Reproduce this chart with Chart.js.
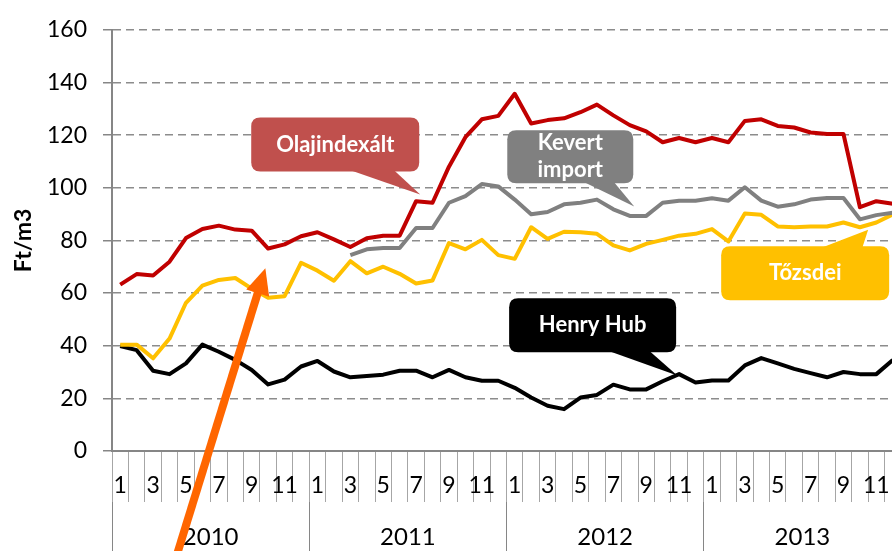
<!DOCTYPE html>
<html>
<head>
<meta charset="utf-8">
<script src="https://cdn.jsdelivr.net/npm/chart.js@4.4.0/dist/chart.umd.min.js"></script>
<style>
    html, body { margin: 0; padding: 0; overflow: hidden; background: #fff; }
    canvas { display: block; }
</style>
</head>
<body>
<canvas id="gasChart" width="901" height="551"></canvas>
<script>
const years = ['2010', '2011', '2012', '2013'];
const months = ['1', '2', '3', '4', '5', '6', '7', '8', '9', '10', '11', '12'];

const olajindexalt = [
    63.2, 67.2, 66.7, 71.9, 80.9, 84.3, 85.6, 84.1, 83.7, 76.9, 78.5, 81.6,
    83.1, 80.4, 77.5, 80.8, 81.8, 81.8, 94.9, 94.3, 108.0, 119.2, 126.0, 127.3,
    135.7, 124.4, 125.7, 126.4, 128.7, 131.6, 127.5, 123.8, 121.4, 117.3, 118.9, 117.3,
    118.9, 117.3, 125.4, 126.0, 123.5, 122.9, 121.0, 120.4, 120.4, 92.6, 94.9, 93.9
];
const kevertImport = [
    null, null, null, null, null, null, null, null, null, null, null, null,
    null, null, 74.4, 76.6, 77.1, 77.1, 84.7, 84.7, 94.3, 96.8, 101.4, 100.5,
    95.5, 89.9, 90.8, 93.7, 94.3, 95.5, 91.8, 89.3, 89.3, 94.3, 95.1, 95.1,
    96.0, 95.1, 100.2, 95.1, 92.8, 93.7, 95.5, 96.1, 96.1, 88.0, 89.6, 90.5
];
const tozsdei = [
    40.4, 40.4, 35.2, 42.7, 56.3, 62.8, 65.0, 65.7, 61.7, 58.2, 58.8, 71.5,
    68.5, 64.7, 72.1, 67.5, 70.0, 67.3, 63.6, 64.8, 79.0, 76.6, 80.2, 74.4,
    73.0, 85.0, 80.6, 83.3, 83.1, 82.5, 78.1, 76.2, 78.7, 80.2, 81.8, 82.5,
    84.3, 79.6, 90.2, 89.7, 85.3, 85.0, 85.3, 85.3, 86.8, 85.0, 86.8, 89.9
];
const henryHub = [
    39.9, 38.3, 30.5, 29.2, 33.3, 40.4, 37.7, 34.6, 30.8, 25.3, 27.1, 32.1,
    34.2, 30.2, 28.0, 28.5, 29.0, 30.5, 30.5, 28.0, 30.8, 28.0, 26.7, 26.7,
    24.0, 20.3, 17.2, 15.9, 20.3, 21.3, 25.2, 23.4, 23.4, 26.5, 29.2, 26.0,
    26.8, 26.8, 32.5, 35.3, 33.3, 31.2, 29.6, 28.0, 30.0, 29.2, 29.2, 34.6
];

// callouts: anchor and tip in data units (month index, Ft/m3)
const callouts = [
    { text: ['Olajindexált'], color: '#C0504D', at: [13.08, 116.4], tip: [18.25, 97.4], w: 168, h: 54, base: [13, 58] },
    { text: ['Kevert', 'import'], color: '#808080', at: [27.38, 111.8], tip: [31.27, 92.9], w: 126, h: 53, base: [12, 43] },
    { text: ['Henry Hub'], color: '#000000', at: [28.74, 47.8], tip: [33.89, 28.7], w: 167, h: 54, base: [14, 56] },
    { text: ['Tőzsdei'], color: '#FFC000', at: [41.67, 67.5], tip: [45.5, 84.0], w: 168, h: 54, base: [15, 57] }
];
const arrow = { from: [3.42, -40], to: [8.83, 69.4], color: '#FF6600' };

const monthLabels = years.flatMap(() => months);

function roundRect(ctx, x, y, w, h, r) {
    ctx.beginPath();
    ctx.moveTo(x + r, y);
    ctx.lineTo(x + w - r, y);
    ctx.quadraticCurveTo(x + w, y, x + w, y + r);
    ctx.lineTo(x + w, y + h - r);
    ctx.quadraticCurveTo(x + w, y + h, x + w - r, y + h);
    ctx.lineTo(x + r, y + h);
    ctx.quadraticCurveTo(x, y + h, x, y + h - r);
    ctx.lineTo(x, y + r);
    ctx.quadraticCurveTo(x, y, x + r, y);
    ctx.closePath();
}

const annotationPlugin = {
    id: 'annotations',
    afterDraw(chart) {
        const ctx = chart.ctx;
        const xs = chart.scales.x;
        const ys = chart.scales.y;

        callouts.forEach(c => {
            const cx = xs.getPixelForValue(c.at[0]);
            const cy = ys.getPixelForValue(c.at[1]);
            const tx = xs.getPixelForValue(c.tip[0]);
            const ty = ys.getPixelForValue(c.tip[1]);
            const left = cx - c.w / 2;
            const top = cy - c.h / 2;
            ctx.save();
            ctx.fillStyle = c.color;
            roundRect(ctx, left, top, c.w, c.h, 9);
            ctx.fill();
            const edge = ty > cy ? top + c.h - 2 : top + 2;
            ctx.beginPath();
            ctx.moveTo(cx + c.base[0], edge);
            ctx.lineTo(tx, ty);
            ctx.lineTo(cx + c.base[1], edge);
            ctx.closePath();
            ctx.fill();
            ctx.fillStyle = '#ffffff';
            ctx.font = 'bold 22px Lato';
            ctx.textAlign = 'center';
            ctx.textBaseline = 'middle';
            const lh = 27;
            c.text.forEach((t, i) => {
                ctx.fillText(t, cx, cy + (i - (c.text.length - 1) / 2) * lh);
            });
            ctx.restore();
        });

        const x1 = xs.getPixelForValue(arrow.from[0]);
        const y1 = ys.getPixelForValue(arrow.from[1]);
        const x2 = xs.getPixelForValue(arrow.to[0]);
        const y2 = ys.getPixelForValue(arrow.to[1]);
        const len = Math.hypot(x2 - x1, y2 - y1);
        const ux = (x2 - x1) / len;
        const uy = (y2 - y1) / len;
        const headLen = 26;
        const headHalf = 12;
        const bx = x2 - ux * headLen;
        const by = y2 - uy * headLen;
        ctx.save();
        ctx.strokeStyle = arrow.color;
        ctx.fillStyle = arrow.color;
        ctx.lineWidth = 8;
        ctx.beginPath();
        ctx.moveTo(x1, y1);
        ctx.lineTo(bx + ux * 2, by + uy * 2);
        ctx.stroke();
        ctx.beginPath();
        ctx.moveTo(x2, y2);
        ctx.lineTo(bx - uy * headHalf, by + ux * headHalf);
        ctx.lineTo(bx + uy * headHalf, by - ux * headHalf);
        ctx.closePath();
        ctx.fill();
        ctx.restore();
    }
};

const ctx = document.getElementById('gasChart').getContext('2d');
new Chart(ctx, {
    type: 'line',
    data: {
        labels: monthLabels,
        datasets: [
            { label: 'Olajindexált', data: olajindexalt, borderColor: '#C00000' },
            { label: 'Kevert import', data: kevertImport, borderColor: '#808080' },
            { label: 'Tőzsdei', data: tozsdei, borderColor: '#FFC000' },
            { label: 'Henry Hub', data: henryHub, borderColor: '#000000' }
        ]
    },
    options: {
        responsive: false,
        animation: false,
        layout: { padding: { top: 22, left: 0, right: 0, bottom: 0 } },
        elements: {
            point: { radius: 0 },
            line: { borderWidth: 4, tension: 0, borderJoinStyle: 'round', fill: false }
        },
        plugins: {
            legend: { display: false },
            tooltip: { enabled: false }
        },
        scales: {
            x: {
                offset: true,
                weight: 0,
                grid: { offset: true, drawOnChartArea: false, tickLength: 51, color: '#a6a6a6', lineWidth: 1 },
                border: { color: '#868686', width: 2 },
                ticks: {
                    autoSkip: false,
                    maxRotation: 0,
                    padding: -30,
                    color: '#000',
                    font: { family: 'Lato', size: 23 },
                    callback: (v, i) => (i % 2 === 0 ? months[i % 12] : '')
                },
                afterFit: s => { s.height = 51; }
            },
            x2: {
                type: 'category',
                labels: years,
                position: 'bottom',
                offset: true,
                weight: 1,
                grid: { offset: true, drawOnChartArea: false, tickLength: 49, color: '#868686', lineWidth: 1 },
                border: { display: false },
                ticks: {
                    autoSkip: false,
                    maxRotation: 0,
                    padding: -28,
                    color: '#000',
                    font: { family: 'Lato', size: 24 }
                },
                afterFit: s => { s.height = 49; }
            },
            y: {
                min: 0,
                max: 160,
                ticks: { stepSize: 20, padding: 16, color: '#000', font: { family: 'Lato', size: 23 } },
                grid: { color: '#8c8c8c', lineWidth: 1.5, tickLength: 9, tickColor: '#868686', tickWidth: 1.5 },
                border: { color: '#868686', width: 2, dash: [8, 5] },
                title: {
                    display: true,
                    text: 'Ft/m3',
                    color: '#000',
                    font: { family: 'Lato', size: 23, weight: 'bold' },
                    padding: { top: 10, bottom: 0 }
                },
                afterFit: s => { s.width = 112; }
            }
        }
    },
    plugins: [annotationPlugin]
});
</script>
</body>
</html>
